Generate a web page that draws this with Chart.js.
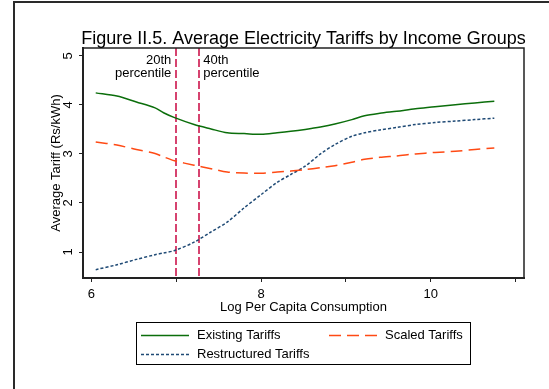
<!DOCTYPE html>
<html>
<head>
<meta charset="utf-8">
<script src="https://cdn.jsdelivr.net/npm/chart.js@4.4.1/dist/chart.umd.min.js"></script>
<style>
  html, body { margin: 0; padding: 0; background: #fff; }
  #wrap { width: 549px; height: 389px; position: relative; }
</style>
</head>
<body>
<div id="wrap"><canvas id="c" width="549" height="389"></canvas></div>
<script>
// Log per capita consumption grid and the smoothed tariff curves (Rs/kWh)
const logConsumption = [6.05, 6.30, 6.53, 6.75, 6.85, 6.98, 7.21, 7.41, 7.60, 7.80, 8.00, 8.19, 8.35,
                        8.52, 8.70, 8.87, 9.07, 9.22, 9.40, 9.60, 9.82, 10.05, 10.29, 10.52, 10.75];
const existingTariffs = [4.245, 4.18, 4.06, 3.94, 3.84, 3.74, 3.60, 3.51, 3.43, 3.415, 3.40, 3.43, 3.46,
                         3.50, 3.55, 3.61, 3.70, 3.78, 3.83, 3.87, 3.92, 3.96, 4.005, 4.04, 4.075];
const scaledTariffs = [3.245, 3.18, 3.09, 3.01, 2.94, 2.86, 2.77, 2.70, 2.63, 2.61, 2.605, 2.63, 2.65,
                       2.68, 2.72, 2.76, 2.83, 2.89, 2.93, 2.96, 3.00, 3.03, 3.055, 3.09, 3.12];
const restructuredTariffs = [0.64, 0.74, 0.85, 0.945, 0.98, 1.03, 1.20, 1.41, 1.61, 1.90, 2.17, 2.42, 2.58,
                             2.75, 3.00, 3.19, 3.36, 3.43, 3.49, 3.54, 3.60, 3.64, 3.67, 3.70, 3.73];
const seriesNames = ['Existing Tariffs', 'Scaled Tariffs', 'Restructured Tariffs'];
const xTickValues = [6, 7, 8, 9, 10, 11];
const xTickLabels = ['6', '', '8', '', '10', ''];
const yTickValues = [1, 2, 3, 4, 5];
const yTickLabels = ['1', '2', '3', '4', '5'];
const percentileCuts = [7.0, 7.27];
const percentileLabels = [['20th', 'percentile'], ['40th', 'percentile']];
const chartTitle = 'Figure II.5. Average Electricity Tariffs by Income Groups';

const FONT = '"Liberation Sans", Arial, Helvetica, sans-serif';

function points(ys) {
  return logConsumption.map((x, i) => ({ x: x, y: ys[i] }));
}

// Outer frame, plot box, title, percentile markers, rotated y labels and boxed legend
const decorations = {
  id: 'decorations',
  beforeDraw(chart) {
    const ctx = chart.ctx;
    ctx.save();
    ctx.fillStyle = '#fff';
    ctx.fillRect(0, 0, chart.width, chart.height);
    ctx.fillStyle = '#2a2a2a';
    ctx.fillRect(13, 1, 2, chart.height - 1);
    ctx.fillRect(13, 1, chart.width - 13, 2);
    ctx.restore();
  },
  beforeDatasetsDraw(chart) {
    const ctx = chart.ctx;
    const a = chart.chartArea;
    const xs = chart.scales.x;
    ctx.save();
    ctx.strokeStyle = '#d6436f';
    ctx.lineWidth = 2;
    ctx.setLineDash([8, 3]);
    percentileCuts.forEach((v) => {
      const px = Math.round(xs.getPixelForValue(v));
      ctx.beginPath();
      ctx.moveTo(px, a.top);
      ctx.lineTo(px, a.bottom);
      ctx.stroke();
    });
    ctx.setLineDash([]);
    ctx.fillStyle = '#000';
    ctx.font = '13px ' + FONT;
    ctx.textBaseline = 'middle';
    percentileLabels.forEach((lines, i) => {
      const px = xs.getPixelForValue(percentileCuts[i]);
      ctx.textAlign = i === 0 ? 'right' : 'left';
      const tx = i === 0 ? px - 5 : px + 4;
      lines.forEach((t, j) => ctx.fillText(t, tx, 60 + j * 13));
    });
    ctx.restore();
  },
  afterDraw(chart) {
    const ctx = chart.ctx;
    const a = chart.chartArea;
    const ys = chart.scales.y;
    ctx.save();
    // plot region box
    ctx.strokeStyle = '#222';
    ctx.lineWidth = 1.5;
    ctx.beginPath();
    ctx.moveTo(a.left, a.top);
    ctx.lineTo(a.right, a.top);
    ctx.lineTo(a.right, a.bottom);
    ctx.stroke();

    // y tick labels, rotated to read upwards
    ctx.fillStyle = '#000';
    ctx.font = '13px ' + FONT;
    ctx.textAlign = 'center';
    ctx.textBaseline = 'middle';
    yTickValues.forEach((v, i) => {
      ctx.save();
      ctx.translate(a.left - 15, ys.getPixelForValue(v));
      ctx.rotate(-Math.PI / 2);
      ctx.fillText(yTickLabels[i], 0, 0);
      ctx.restore();
    });

    // title
    ctx.font = '18px ' + FONT;
    ctx.textAlign = 'center';
    ctx.textBaseline = 'alphabetic';
    ctx.fillText(chartTitle, (a.left + a.right) / 2, 44);

    // legend
    ctx.lineWidth = 1;
    ctx.strokeStyle = '#000';
    ctx.strokeRect(136.5, 322.5, 334, 42);
    const slots = [[141, 335], [329, 335], [141, 354]];
    ctx.font = '13px ' + FONT;
    ctx.textAlign = 'left';
    ctx.textBaseline = 'middle';
    chart.data.datasets.forEach((ds, i) => {
      const [lx, ly] = slots[i];
      ctx.strokeStyle = ds.borderColor;
      ctx.lineWidth = ds.borderWidth;
      ctx.setLineDash(ds.borderDash || []);
      ctx.beginPath();
      ctx.moveTo(lx, ly + 0.5);
      ctx.lineTo(lx + 48, ly + 0.5);
      ctx.stroke();
      ctx.setLineDash([]);
      ctx.fillStyle = '#000';
      ctx.fillText(ds.label, lx + 56, ly);
    });
    ctx.restore();
  }
};

new Chart(document.getElementById('c'), {
  type: 'line',
  data: {
    datasets: [
      { label: seriesNames[0], data: points(existingTariffs), borderColor: '#0b6e0b',
        borderWidth: 1.5, borderDash: [], pointRadius: 0, tension: 0.3, fill: false },
      { label: seriesNames[1], data: points(scaledTariffs), borderColor: '#ff4a14',
        borderWidth: 1.5, borderDash: [12, 6], pointRadius: 0, tension: 0.3, fill: false },
      { label: seriesNames[2], data: points(restructuredTariffs), borderColor: '#1f4a75',
        borderWidth: 1.5, borderDash: [3, 2], pointRadius: 0, tension: 0.3, fill: false }
    ]
  },
  options: {
    responsive: false,
    animation: false,
    devicePixelRatio: 1,
    layout: { padding: { left: 44, top: 48, right: 25, bottom: 74 } },
    plugins: { legend: { display: false }, tooltip: { enabled: false }, title: { display: false } },
    scales: {
      x: {
        type: 'linear', min: 5.9, max: 11.1,
        afterBuildTicks: (s) => { s.ticks = xTickValues.map((v) => ({ value: v })); },
        afterFit: (s) => { s.height = 37; },
        ticks: {
          autoSkip: false, maxRotation: 0, padding: 5, color: '#000',
          font: { family: FONT, size: 13 },
          callback: (v) => xTickLabels[xTickValues.indexOf(v)]
        },
        grid: { drawOnChartArea: false, drawTicks: true, tickLength: 4, color: '#222', tickWidth: 1 },
        border: { color: '#222', width: 2 },
        title: { display: true, text: 'Log Per Capita Consumption', color: '#000',
                 font: { family: FONT, size: 13 }, padding: { top: 0, bottom: 0 } }
      },
      y: {
        type: 'linear', min: 0.47, max: 5.16,
        afterBuildTicks: (s) => { s.ticks = yTickValues.map((v) => ({ value: v })); },
        afterFit: (s) => { s.width = 39; },
        ticks: { display: false },
        grid: { drawOnChartArea: false, drawTicks: true, tickLength: 4, color: '#222', tickWidth: 1 },
        border: { color: '#222', width: 2 },
        title: { display: true, text: 'Average Tariff (Rs/kWh)', color: '#000',
                 font: { family: FONT, size: 13 }, padding: { top: 5, bottom: 0 } }
      }
    }
  },
  plugins: [decorations]
});
</script>
</body>
</html>
